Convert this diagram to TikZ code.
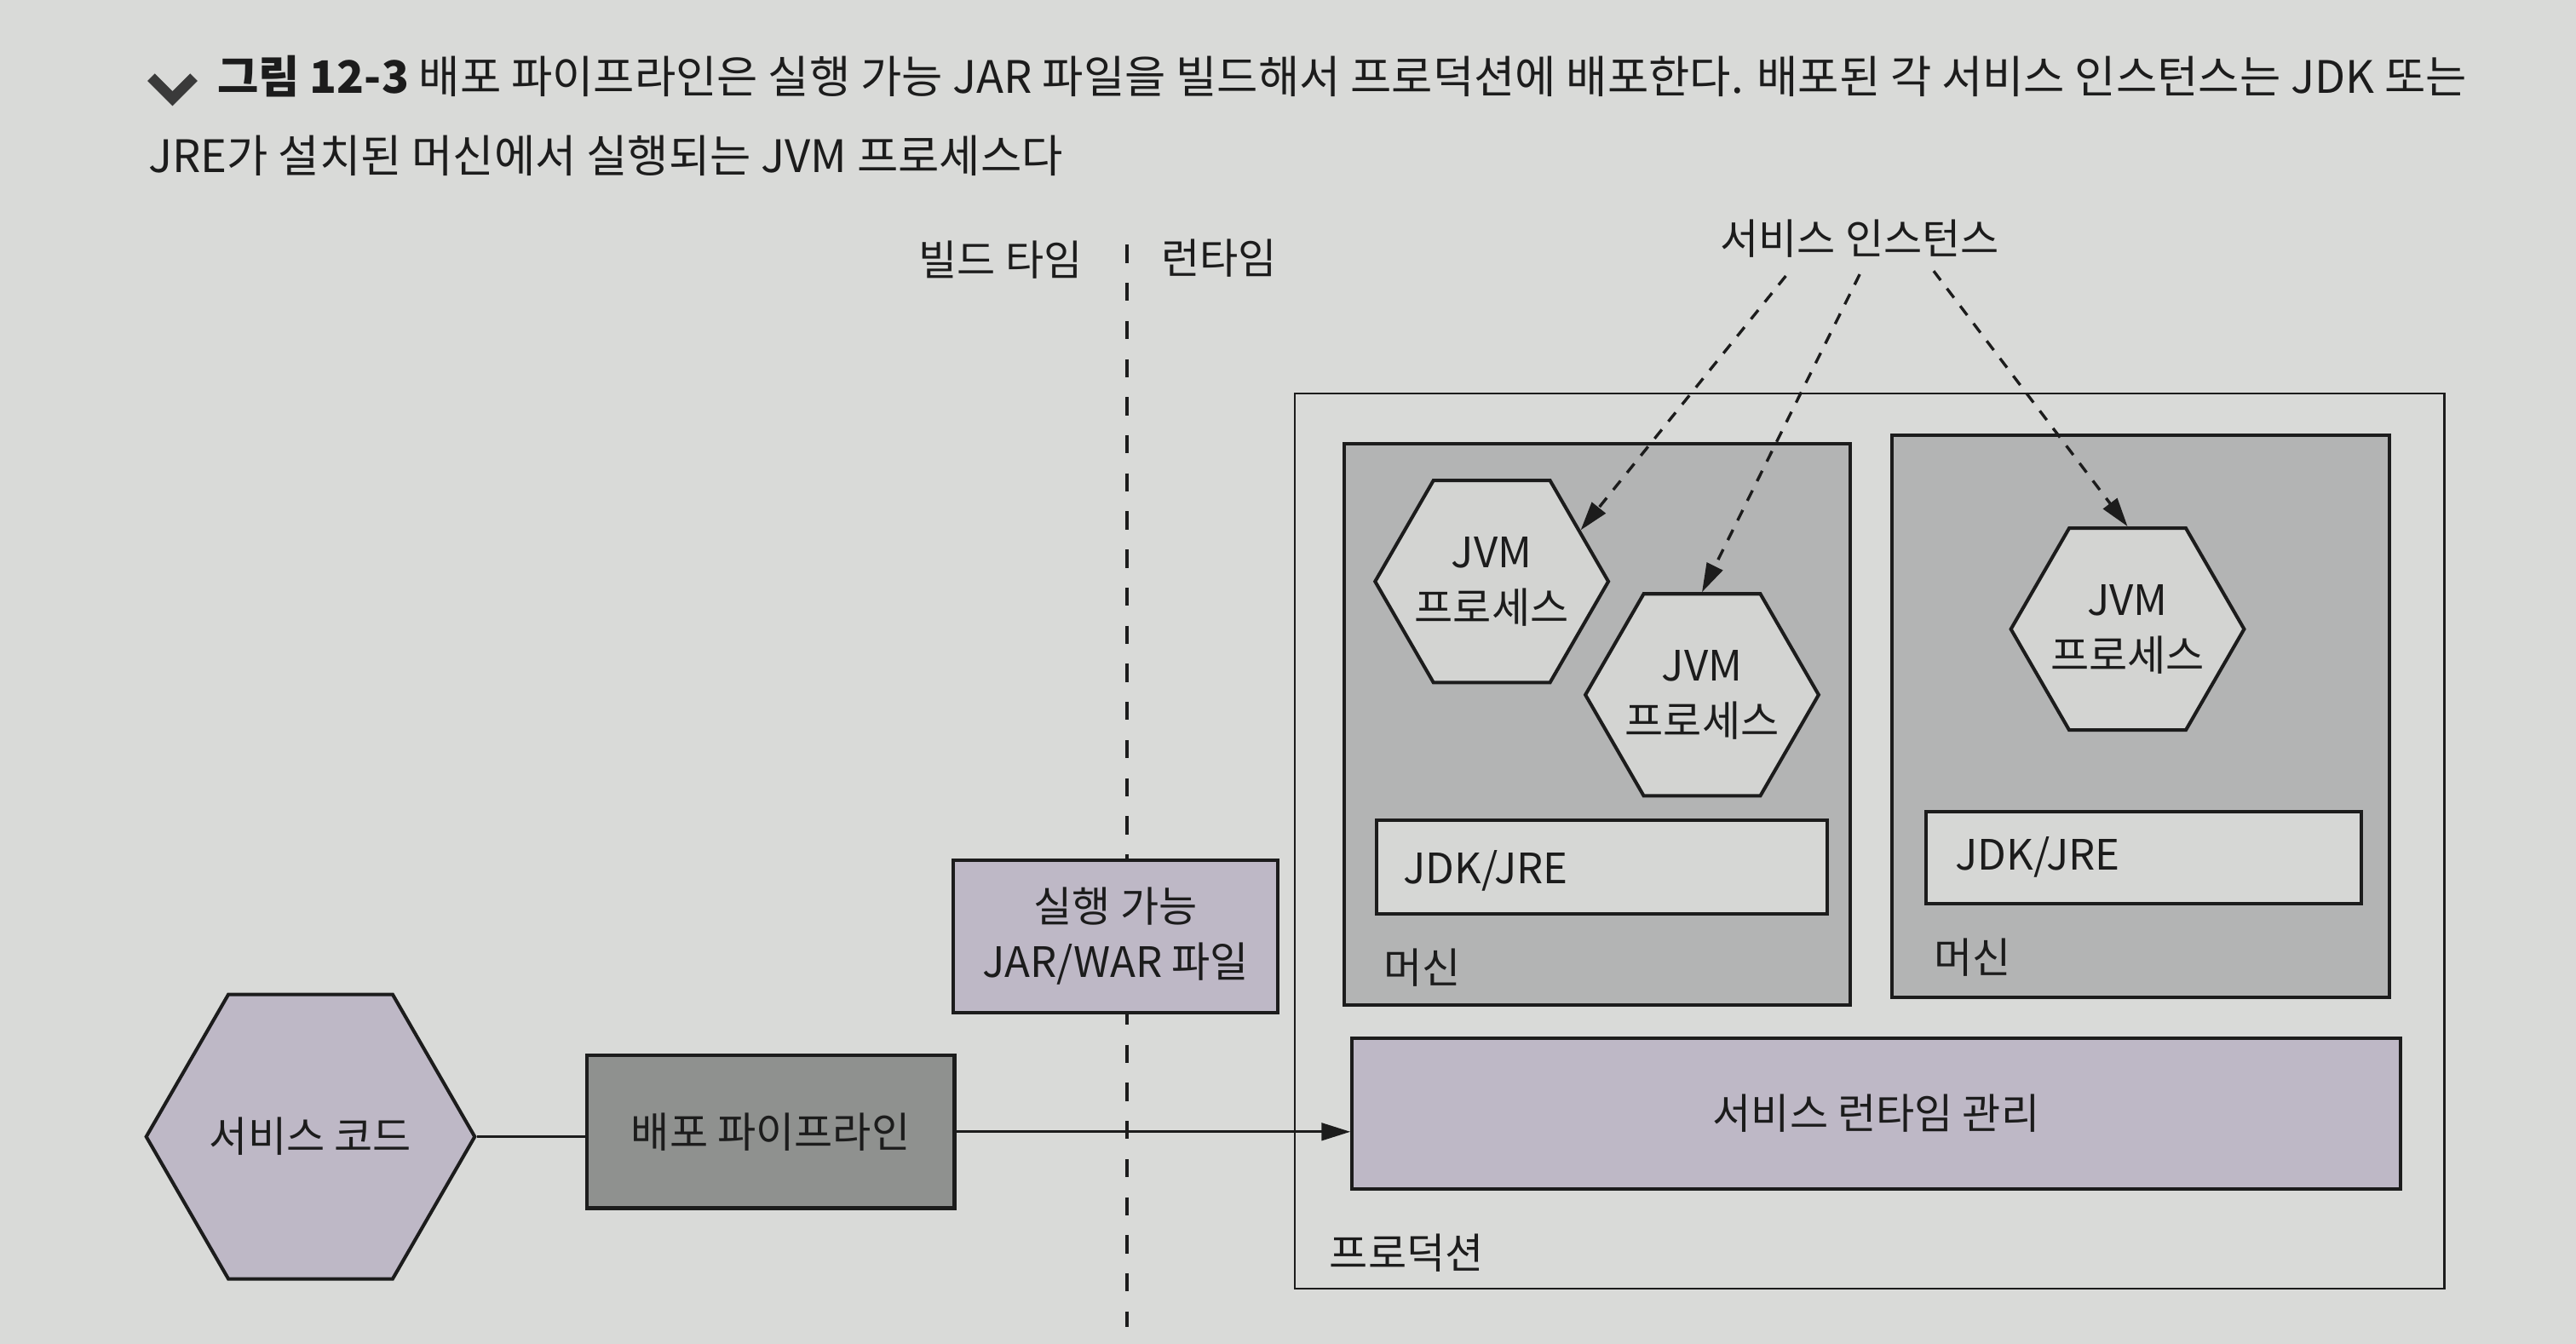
\documentclass[tikz,border=0pt]{standalone}
\usepackage{fontspec}
\setmainfont{Noto Sans CJK KR}
\usetikzlibrary{shapes.geometric,arrows.meta}

\definecolor{pagebg}{HTML}{D9DAD8}
\definecolor{ink}{HTML}{1C1C1C}
\definecolor{capmark}{HTML}{3A3A3A}
\definecolor{machinegray}{HTML}{B3B4B4}
\definecolor{hexfill}{HTML}{D3D4D2}
\definecolor{jdkfill}{HTML}{D6D7D5}
\definecolor{lilac}{HTML}{BEB8C6}
\definecolor{pipegray}{HTML}{8F918F}

\newcommand{\lblfont}{\fontsize{14.5}{19.3}\selectfont}
\newcommand{\capfont}{\fontsize{15.5}{20}\selectfont}

\tikzset{
	plain/.style={inner sep=0pt, text=ink, font=\lblfont},
	caption/.style={anchor=base west, inner sep=0pt, text=ink, font=\capfont},
	box/.style={draw=ink, very thick, rectangle, inner sep=0pt, text=ink, align=center, font=\lblfont},
	prodbox/.style={draw=ink, line width=0.7pt, rectangle, inner sep=0pt},
	machine/.style={box, fill=machinegray},
	jdkbox/.style={box, fill=jdkfill},
	lilacbox/.style={box, fill=lilac},
	hexa/.style={draw=ink, very thick, regular polygon, regular polygon sides=6, inner sep=-8pt, text=ink, align=center, font=\lblfont},
	timeline/.style={draw=ink, line width=1pt, dash pattern=on 6.3pt off 6.9pt},
	flow/.style={draw=ink, line width=1pt},
	instarrow/.style={draw=ink, line width=1pt, dash pattern=on 4pt off 3.6pt, -{Triangle[length=10pt, width=6pt]}}
}

\begin{document}
\begin{tikzpicture}[x=0.02cm, y=-0.02cm]
	% sfondo
	\fill[pagebg] (0,0) rectangle (1568,818);
	\useasboundingbox (0,0) rectangle (1568,818);

	% didascalia
	\draw[capmark, line width=3.6pt] (92,47) -- (105,60) -- (118,47);
	\node[caption] (cap1) at (132,57) {\textbf{그림 12-3} 배포 파이프라인은 실행 가능 JAR 파일을 빌드해서 프로덕션에 배포한다. 배포된 각 서비스 인스턴스는 JDK 또는};
	\node[caption] (cap2) at (90,105) {JRE가 설치된 머신에서 실행되는 JVM 프로세스다};

	% build / runtime
	\coordinate (t_top) at (686,149);
	\coordinate (t_bot) at (686,808);
	\draw[timeline] (t_top) -- (t_bot);
	\node[plain] (build) at (609,158) {빌드 타임};
	\node[plain] (run) at (742,157) {런타임};

	% produzione
	\node[prodbox, minimum width=14cm, minimum height=10.9cm] (prod) at (1138,512) {};
	\node[plain, anchor=west] (prodlbl) at (809,763) {프로덕션};

	% macchine
	\node[machine, minimum width=6.16cm, minimum height=6.84cm] (m1) at (972,441) {};
	\node[machine, minimum width=6.06cm, minimum height=6.84cm] (m2) at (1303,436) {};
	\node[plain, anchor=west] (m1lbl) at (842,589) {머신};
	\node[plain, anchor=west] (m2lbl) at (1177,583) {머신};

	\node[jdkbox, minimum width=5.48cm, minimum height=1.14cm] (jdk1) at (975,528) {};
	\node[jdkbox, minimum width=5.30cm, minimum height=1.12cm] (jdk2) at (1305,522) {};
	\node[plain, anchor=west] (jdk1lbl) at (854,530) {JDK/JRE};
	\node[plain, anchor=west] (jdk2lbl) at (1190,522) {JDK/JRE};

	\node[hexa, fill=hexfill, minimum size=2.84cm] (jvm1) at (908,354) {JVM\\프로세스};
	\node[hexa, fill=hexfill, minimum size=2.84cm] (jvm2) at (1036,423) {JVM\\프로세스};
	\node[hexa, fill=hexfill, minimum size=2.84cm] (jvm3) at (1295,383) {JVM\\프로세스};

	\node[lilacbox, minimum width=12.76cm, minimum height=1.84cm] (srm) at (1142,678) {서비스 런타임 관리};

	% pipeline
	\node[hexa, fill=lilac, minimum size=4cm] (code) at (189,692) {서비스 코드};
	\node[box, fill=pipegray, minimum width=4.48cm, minimum height=1.86cm] (pipe) at (469,689) {배포 파이프라인};
	\node[lilacbox, minimum width=3.96cm, minimum height=1.86cm] (jar) at (679,570) {실행 가능\\JAR/WAR 파일};

	\draw[flow] (code.east) -- (code.east -| pipe.west);
	\draw[flow, -{Triangle[length=10pt, width=6pt]}] (pipe.east) -- (pipe.east -| srm.west);

	% istanze
	\node[plain] (inst) at (1132,145) {서비스 인스턴스};
	\coordinate (i1) at (1087,168);
	\coordinate (i2) at (1132,167);
	\coordinate (i3) at (1177,165);
	\draw[instarrow] (i1) -- (jvm1.30);
	\draw[instarrow] (i2) -- (jvm2.north);
	\draw[instarrow] (i3) -- (jvm3.north);
\end{tikzpicture}
\end{document}
